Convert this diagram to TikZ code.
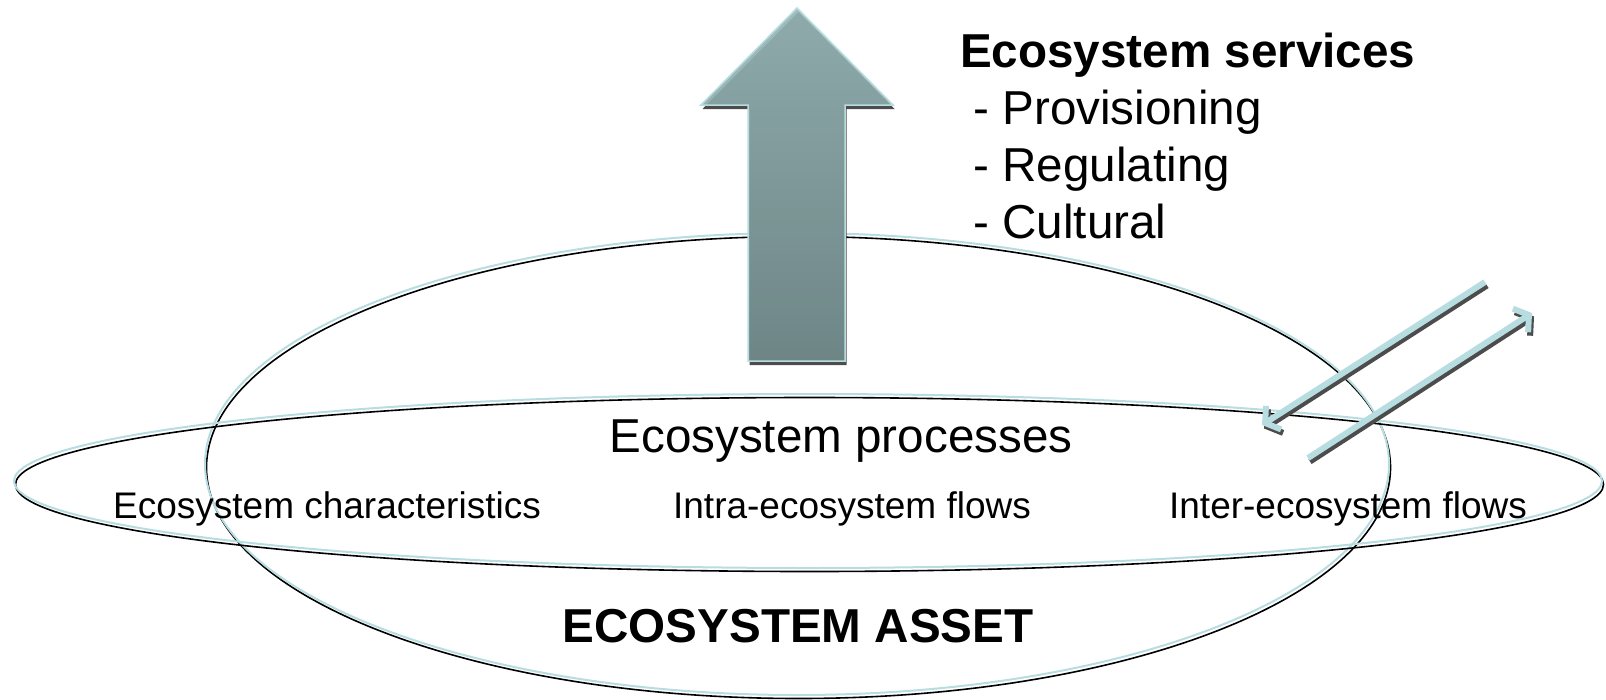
\documentclass[tikz,border=0pt]{standalone}
\usepackage{fontspec}
\setmainfont{Liberation Sans}
\usepackage{tikz}
\usetikzlibrary{arrows.meta}
\definecolor{lineblue}{HTML}{B8DDE1}
\definecolor{shadowgray}{gray}{0.30}
\definecolor{arrowtop}{HTML}{96B5B6}
\definecolor{arrowbot}{HTML}{728C8D}

\begin{document}
\begin{tikzpicture}[x=1pt, y=-1pt,
	rim/.style={lineblue, line width=2pt},
	rimshade/.style={black, line width=1.6pt},
	flow/.style={line width=6pt, -{Straight Barb[length=10pt, width=28pt]}},
	bigtext/.style={inner sep=0pt, font=\fontsize{47.6}{57}\selectfont},
	smalltext/.style={inner sep=0pt, font=\fontsize{37}{44}\selectfont}]

\useasboundingbox (0,0) rectangle (1606,699);

\def \rimdx{1.5}
\def \rimdy{3.5}

% asset ellipse and process ellipse
\draw[rimshade] (797+\rimdx, 464+\rimdy) ellipse [x radius=592, y radius=231];
\draw[rim]      (797, 464) ellipse [x radius=592, y radius=231];
\draw[rimshade] (808+\rimdx, 481+\rimdy) ellipse [x radius=794, y radius=87];
\draw[rim]      (808, 481) ellipse [x radius=794, y radius=87];

% services arrow
\def \arrowshape{(797,8) -- (893,105) -- (845,105) -- (845,361) -- (748,361) -- (748,105) -- (701,105) -- cycle}
\fill[shadowgray, shift={(1.5,4)}] \arrowshape; % shadow
\shadedraw[top color=arrowtop, bottom color=arrowbot, draw=lineblue, line width=1.5pt, fill opacity=0.9] \arrowshape;

% inter-ecosystem flows in and out
\coordinate (in start)  at (1485,282);
\coordinate (in end)    at (1262,425);
\coordinate (out start) at (1308,458);
\coordinate (out end)   at (1532,313);
\foreach \a in {in, out} {
	\draw[flow, shadowgray] ([shift={(2,3.5)}]\a\space start) -- ([shift={(2,3.5)}]\a\space end); % shadow
	\draw[flow, lineblue] (\a\space start) -- (\a\space end);
}

% labels
\node[bigtext, anchor=base west] (services) at (960,67) {\textbf{Ecosystem services}};
\foreach \t [count=\i] in {Provisioning, Regulating, Cultural} {
	\node[bigtext, anchor=base west] (service \i) at (960,67+57*\i) {\ - \t};
}

\node[bigtext, anchor=base] (processes) at (841,452) {Ecosystem processes};
\node[smalltext, anchor=base] (characteristics) at (327,518) {Ecosystem characteristics};
\node[smalltext, anchor=base] (intra) at (852,518) {Intra-ecosystem flows};
\node[smalltext, anchor=base] (inter) at (1348,518) {Inter-ecosystem flows};
\node[bigtext, anchor=base] (asset) at (798,642) {\textbf{ECOSYSTEM ASSET}};

\end{tikzpicture}
\end{document}
